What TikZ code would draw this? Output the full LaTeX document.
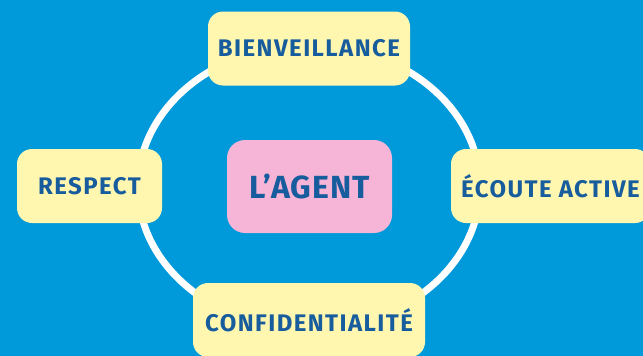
\documentclass[tikz,border=0pt]{standalone}
\usepackage{fontspec}
\setmainfont{Fira Sans}
\definecolor{bg}{HTML}{0099DA}
\definecolor{boxyellow}{HTML}{FFF6B0}
\definecolor{boxpink}{HTML}{F6B4D6}
\definecolor{txtblue}{HTML}{175C9C}
\tikzset{
  valuebox/.style={fill=boxyellow, rounded corners=15pt, inner sep=0pt,
    font=\fontsize{24}{26}\selectfont\bfseries\addfontfeatures{LetterSpace=6}, text=txtblue, minimum height=74pt},
  centerbox/.style={fill=boxpink, rounded corners=18pt, inner sep=0pt,
    font=\fontsize{32}{34}\selectfont\bfseries\addfontfeatures{LetterSpace=3}, text=txtblue, minimum width=165pt, minimum height=93pt}
}
\begin{document}
\begin{tikzpicture}[x=1pt,y=-1pt]
\useasboundingbox (0,0) rectangle (643,356);
\fill[bg] (0,0) rectangle (643,356);
\coordinate (ctr) at (309,187);
\draw[white, line width=7pt] (ctr) ellipse [x radius=171, y radius=142];
\node[centerbox] (agent) at (309.5,186.5) {L’AGENT};
\node[valuebox, minimum width=202pt] (bien) at (309,48.5) {BIENVEILLANCE};
\node[valuebox, minimum width=199pt] (ecoute) at (550.5,186) {ÉCOUTE ACTIVE};
\node[valuebox, minimum width=232pt] (conf) at (309,320) {CONFIDENTIALITÉ};
\node[valuebox, minimum width=145pt] (resp) at (89.5,186) {RESPECT};
\end{tikzpicture}
\end{document}
